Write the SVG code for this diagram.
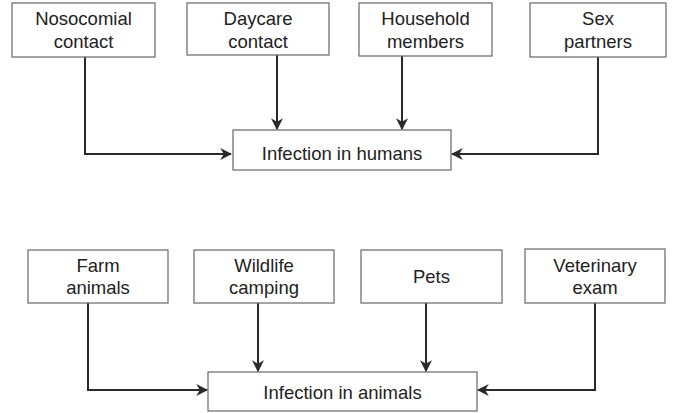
<svg xmlns="http://www.w3.org/2000/svg" width="673" height="413" viewBox="0 0 673 413">
<style>
.box{fill:#fff;stroke:#666;stroke-width:1.2}
.t{font-family:"Liberation Sans",Arial,sans-serif;font-size:18.5px;fill:#222;text-anchor:middle}
.c{fill:none;stroke:#2a2a2a;stroke-width:2;marker-end:url(#ah)}
</style>
<defs>
<marker id="ah" viewBox="0 0 10 10" refX="9" refY="5" markerWidth="6" markerHeight="6" markerUnits="strokeWidth" orient="auto">
<path d="M0,0 L10,5 L0,10 L3,5 Z" fill="#2a2a2a"/>
</marker>
</defs>
<rect width="673" height="413" fill="#fff"/>
<g id="connectors">
<path class="c" d="M85,57 V154 H231"/>
<path class="c" d="M277,55 V129"/>
<path class="c" d="M402,56 V129"/>
<path class="c" d="M598,57 V154 H452"/>
<path class="c" d="M88,303 V390 H207"/>
<path class="c" d="M258,303 V371"/>
<path class="c" d="M426,303 V371"/>
<path class="c" d="M595,303 V390 H478"/>
</g>
<g id="nosocomial"><rect class="box" x="12" y="3" width="143" height="54"/><text class="t" x="83.5" y="25">Nosocomial</text><text class="t" x="83.5" y="48">contact</text></g>
<g id="daycare"><rect class="box" x="187" y="3" width="142" height="52"/><text class="t" x="258" y="25">Daycare</text><text class="t" x="258" y="48">contact</text></g>
<g id="household"><rect class="box" x="359" y="3" width="133" height="53"/><text class="t" x="425.5" y="25">Household</text><text class="t" x="425.5" y="48">members</text></g>
<g id="sex"><rect class="box" x="530" y="3" width="136" height="54"/><text class="t" x="598" y="25">Sex</text><text class="t" x="598" y="48">partners</text></g>
<g id="humans"><rect class="box" x="233" y="130" width="218" height="40"/><text class="t" x="342" y="160">Infection in humans</text></g>
<g id="farm"><rect class="box" x="28" y="250" width="140" height="53"/><text class="t" x="98" y="272">Farm</text><text class="t" x="98" y="294">animals</text></g>
<g id="wildlife"><rect class="box" x="194" y="250" width="140" height="53"/><text class="t" x="264" y="272">Wildlife</text><text class="t" x="264" y="294">camping</text></g>
<g id="pets"><rect class="box" x="361" y="250" width="141" height="53"/><text class="t" x="431.5" y="283">Pets</text></g>
<g id="vet"><rect class="box" x="525" y="249" width="140" height="54"/><text class="t" x="595" y="272">Veterinary</text><text class="t" x="595" y="294">exam</text></g>
<g id="animals"><rect class="box" x="208" y="372" width="269" height="39"/><text class="t" x="342.5" y="399">Infection in animals</text></g>
</svg>
